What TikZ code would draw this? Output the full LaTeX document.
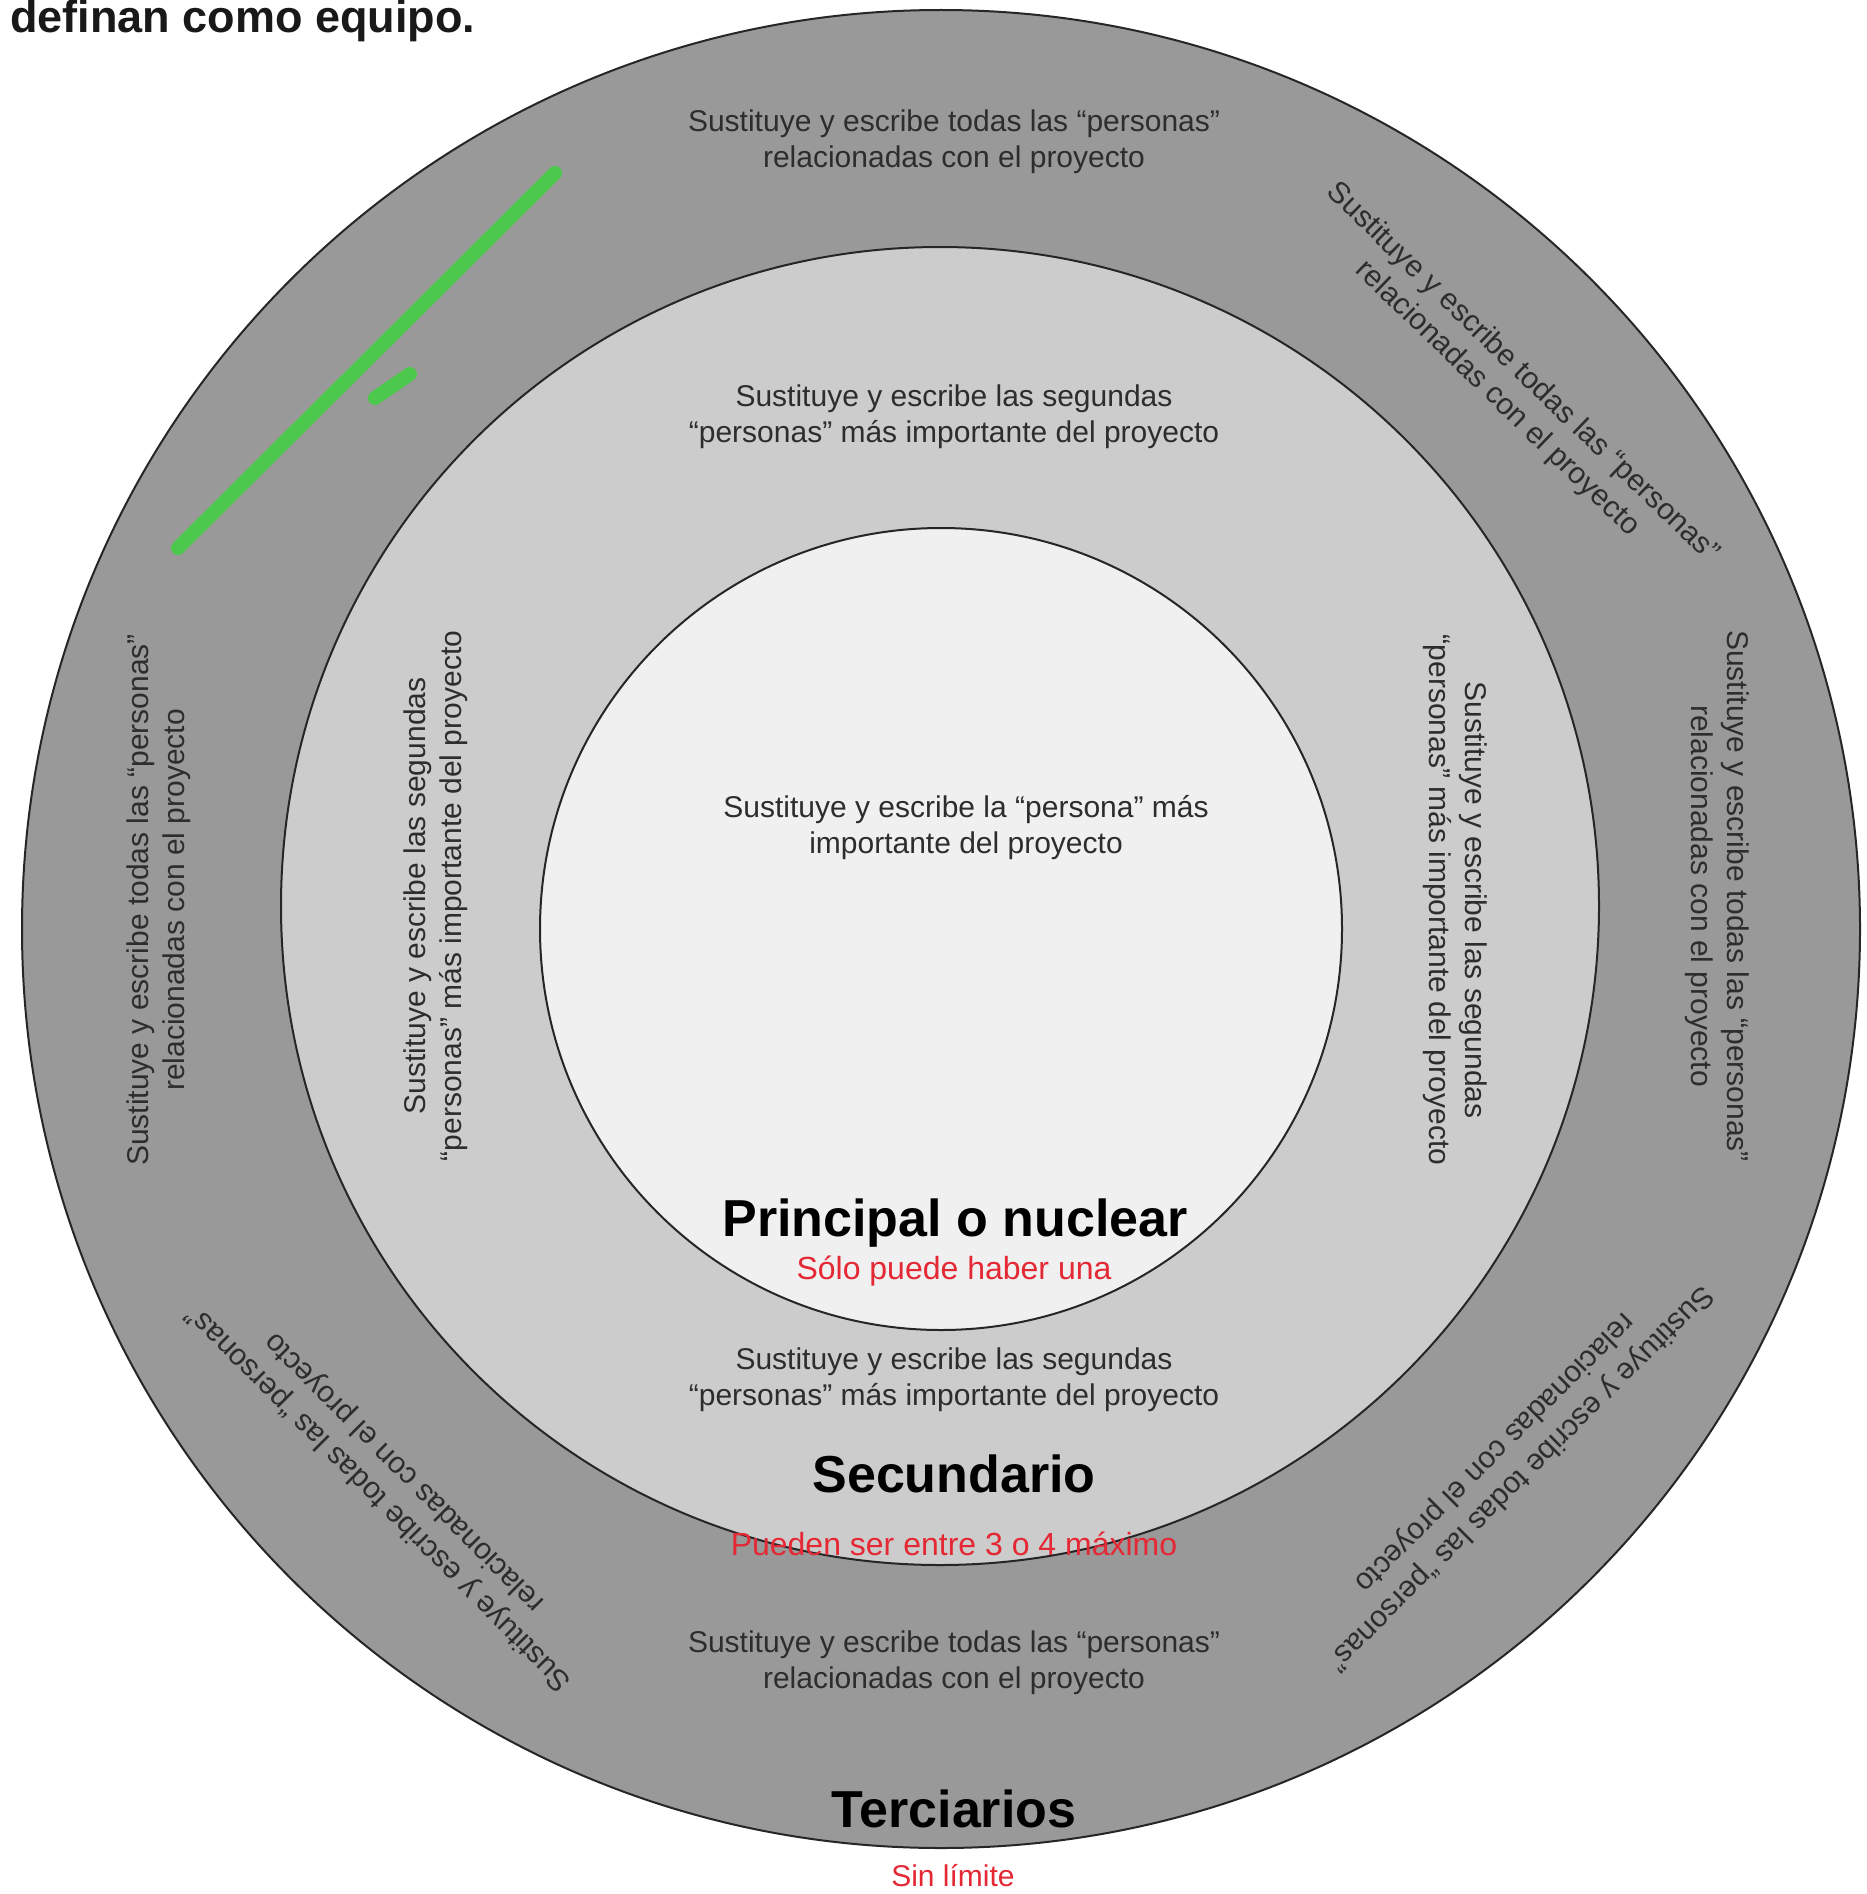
\documentclass[tikz,border=0pt]{standalone}
\usepackage{fontspec}
\setmainfont{Liberation Sans}
\definecolor{ringouter}{RGB}{153,153,153}
\definecolor{ringmid}{RGB}{204,204,204}
\definecolor{ringinner}{RGB}{240,240,240}
\definecolor{redc}{RGB}{228,40,52}
\definecolor{greenc}{RGB}{76,201,76}
\definecolor{textgray}{RGB}{45,45,45}
\begin{document}
\begin{tikzpicture}[x=0.5pt,y=-0.5pt,
  ring/.style={draw=black!85, line width=1pt},
  small/.style={font=\fontsize{15}{18}\selectfont, text=textgray, align=center, inner sep=0pt},
  biglbl/.style={font=\fontsize{26}{30}\selectfont\bfseries, text=black, inner sep=0pt},
  redlbl/.style={font=\fontsize{16}{19}\selectfont, text=redc, inner sep=0pt},
  redact/.style={draw=greenc, line width=7pt, line cap=round}]
\useasboundingbox (0,0) rectangle (1867,1894);
\fill[white] (0,0) rectangle (1867,1894);
% rings
\draw[ring, fill=ringouter] (941,929) circle[radius=459.5pt];
\draw[ring, fill=ringmid] (940,906) circle[radius=329.5pt];
\draw[ring, fill=ringinner] (941,929) circle[radius=200.5pt];
% heading (cut off at top)
\node[anchor=base west, inner sep=0pt, font=\fontsize{22.5}{27}\selectfont\bfseries, text=black!90] (head) at (10,33) {definan como equipo.};
% green redaction
\coordinate (g1) at (178,548);
\coordinate (g2) at (555,173);
\coordinate (g3) at (375,398);
\coordinate (g4) at (410,374);
\draw[redact] (g1) -- (g2);
\draw[redact] (g3) -- (g4);
% outer ring texts
\node[small] (ot) at (954,142) {Sustituye y escribe todas las “personas”\\relacionadas con el proyecto};
\node[small] (ob) at (954,1663) {Sustituye y escribe todas las “personas”\\relacionadas con el proyecto};
\node[small, rotate=90] (ol) at (159,900) {Sustituye y escribe todas las “personas”\\relacionadas con el proyecto};
\node[small, rotate=-90] (or) at (1717,896) {Sustituye y escribe todas las “personas”\\relacionadas con el proyecto};
\node[small, rotate=-44] (otr) at (1510,386) {Sustituye y escribe todas las “personas”\\relacionadas con el proyecto};
\node[small, rotate=-135] (obr) at (1507,1465) {Sustituye y escribe todas las “personas”\\relacionadas con el proyecto};
\node[small, rotate=135] (obl) at (392,1485) {Sustituye y escribe todas las “personas”\\relacionadas con el proyecto};
% middle ring texts
\node[small] (mt) at (954,417) {Sustituye y escribe las segundas\\“personas” más importante del proyecto};
\node[small] (mb) at (954,1380) {Sustituye y escribe las segundas\\“personas” más importante del proyecto};
\node[small, rotate=90] (ml) at (436,896) {Sustituye y escribe las segundas\\“personas” más importante del proyecto};
\node[small, rotate=-90] (mr) at (1455,900) {Sustituye y escribe las segundas\\“personas” más importante del proyecto};
% inner text
\node[small] (it) at (966,828) {Sustituye y escribe la “persona” más\\importante del proyecto};
% labels
\node[biglbl] (pn) at (955,1223) {Principal o nuclear};
\node[redlbl] (pnr) at (954,1271) {Sólo puede haber una};
\node[biglbl] (sc) at (954,1474) {Secundario};
\node[redlbl] (scr) at (954,1544) {Pueden ser entre 3 o 4 máximo};
\node[biglbl] (tc) at (954,1809) {Terciarios};
\node[redlbl, font=\fontsize{15}{18}\selectfont] (tcr) at (953,1876) {Sin límite};
\end{tikzpicture}
\end{document}
